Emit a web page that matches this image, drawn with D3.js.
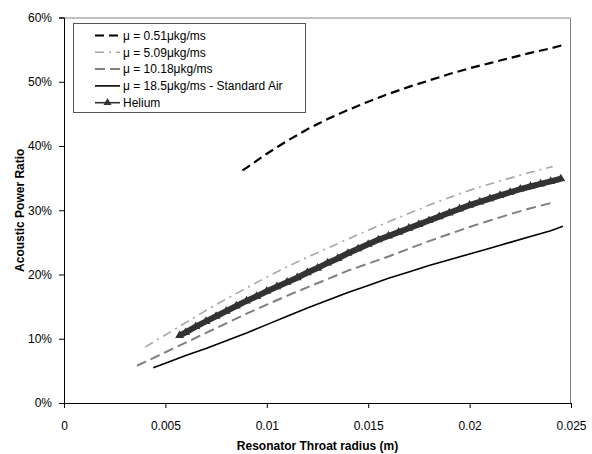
<!DOCTYPE html>
<html>
<head>
<meta charset="utf-8">
<script src="https://cdn.jsdelivr.net/npm/d3@7"></script>
<style>
  body { margin: 0; background: #fff; }
  svg { font-family: "Liberation Sans", Arial, sans-serif; }
</style>
</head>
<body>
<div id="chart"></div>
<script>
// series: throat radius (m) vs acoustic power ratio (%)
var rad051 = [0.0088, 0.009, 0.010, 0.011, 0.012, 0.013, 0.014, 0.015, 0.016, 0.017, 0.018, 0.019, 0.020, 0.021, 0.022, 0.023, 0.024, 0.0246];
var ratio051 = [36.2, 36.6, 38.8, 40.8, 42.6, 44.2, 45.6, 46.9, 48.1, 49.2, 50.2, 51.2, 52.1, 52.9, 53.7, 54.5, 55.2, 55.7];

var rad509 = [0.004, 0.005, 0.006, 0.007, 0.008, 0.009, 0.010, 0.011, 0.012, 0.013, 0.014, 0.015, 0.016, 0.017, 0.018, 0.019, 0.020, 0.021, 0.022, 0.023, 0.0241];
var ratio509 = [8.7, 10.6, 12.5, 14.4, 16.2, 17.9, 19.6, 21.2, 22.7, 24.1, 25.5, 26.9, 28.2, 29.5, 30.8, 32.0, 33.1, 34.1, 35.0, 35.9, 36.8];

var rad1018 = [0.0036, 0.004, 0.005, 0.006, 0.007, 0.008, 0.009, 0.010, 0.011, 0.012, 0.013, 0.014, 0.015, 0.016, 0.017, 0.018, 0.019, 0.020, 0.021, 0.022, 0.023, 0.0241];
var ratio1018 = [5.8, 6.4, 7.9, 9.4, 10.9, 12.4, 13.9, 15.3, 16.7, 18.0, 19.3, 20.6, 21.7, 22.8, 24.0, 25.2, 26.3, 27.4, 28.4, 29.4, 30.3, 31.2];

var rad185 = [0.0044, 0.005, 0.006, 0.007, 0.008, 0.009, 0.010, 0.011, 0.012, 0.013, 0.014, 0.015, 0.016, 0.017, 0.018, 0.019, 0.020, 0.021, 0.022, 0.023, 0.024, 0.0246];
var ratio185 = [5.5, 6.2, 7.4, 8.5, 9.7, 10.9, 12.2, 13.5, 14.8, 16.0, 17.2, 18.3, 19.4, 20.4, 21.4, 22.3, 23.2, 24.1, 25.0, 25.9, 26.8, 27.5];

var radHe = [0.0057, 0.006, 0.0065, 0.007, 0.0075, 0.008, 0.0085, 0.009, 0.0095, 0.010, 0.0105, 0.011, 0.0115, 0.012, 0.0125, 0.013, 0.0135, 0.014, 0.0145, 0.015,
             0.0155, 0.016, 0.0165, 0.017, 0.0175, 0.018, 0.0185, 0.019, 0.0195, 0.020, 0.0205, 0.021, 0.0215, 0.022, 0.0225, 0.023, 0.0235, 0.024, 0.0245];
var ratioHe = [10.5, 11.0, 11.9, 12.7, 13.5, 14.3, 15.1, 15.9, 16.6, 17.4, 18.1, 18.8, 19.5, 20.3, 21.0, 21.8, 22.5, 23.3, 24.0, 24.7,
               25.4, 26.0, 26.6, 27.2, 27.8, 28.4, 29.0, 29.6, 30.2, 30.8, 31.3, 31.8, 32.3, 32.8, 33.3, 33.7, 34.1, 34.5, 34.9];

var seriesNames = ["μ = 0.51μkg/ms", "μ = 5.09μkg/ms", "μ = 10.18μkg/ms", "μ = 18.5μkg/ms - Standard Air", "Helium"];
var xTickValues = [0, 0.005, 0.01, 0.015, 0.02, 0.025];
var xTickLabels = ["0", "0.005", "0.01", "0.015", "0.02", "0.025"];
var yTickValues = [0, 10, 20, 30, 40, 50, 60];

(function (d3) {
  "use strict";

  var opt = {
    width: 592,
    height: 454,
    margin: {top: 17.5, right: 21, bottom: 51, left: 64}
  };
  opt.inWidth = opt.width - opt.margin.left - opt.margin.right;
  opt.inHeight = opt.height - opt.margin.top - opt.margin.bottom;

  // line looks per series, same order as seriesNames
  var looks = [
    {color: "#000000", width: 2.2, dash: "9,5"},
    {color: "#a6a6a6", width: 1.6, dash: "9,5,2,5"},
    {color: "#7f7f7f", width: 2, dash: "10,5"},
    {color: "#000000", width: 1.6, dash: null},
    {color: "#333333", width: 6, dash: null, marker: true}
  ];
  var xs = [rad051, rad509, rad1018, rad185, radHe];
  var ys = [ratio051, ratio509, ratio1018, ratio185, ratioHe];
  var series = seriesNames.map(function (name, i) {
    return {
      name: name,
      look: looks[i],
      points: xs[i].map(function (x, j) { return [x, ys[i][j]]; })
    };
  });

  var xScale = d3.scaleLinear().domain([0, 0.025]).range([0, opt.inWidth]);
  var yScale = d3.scaleLinear().domain([0, 60]).range([opt.inHeight, 0]);

  var svg = d3.select("#chart").append("svg")
    .attr("width", opt.width)
    .attr("height", opt.height);
  var g = svg.append("g")
    .attr("transform", "translate(" + opt.margin.left + "," + opt.margin.top + ")");

  // grey frame on top and right
  g.append("path")
    .attr("d", "M0,0.5H" + (opt.inWidth - 0.5) + "V" + opt.inHeight)
    .attr("fill", "none")
    .attr("stroke", "#808080")
    .attr("stroke-width", 1);

  // axes
  var yAxis = g.append("g")
    .call(d3.axisLeft(yScale).tickValues(yTickValues).tickSize(5).tickPadding(7)
      .tickFormat(function (d) { return d + "%"; }));
  var xAxis = g.append("g")
    .attr("transform", "translate(0," + opt.inHeight + ")")
    .call(d3.axisBottom(xScale).tickValues(xTickValues).tickSize(5).tickPadding(13)
      .tickFormat(function (d, i) { return xTickLabels[i]; }));
  [xAxis, yAxis].forEach(function (ax) {
    ax.select(".domain").attr("stroke", "#000");
    ax.selectAll("text").attr("font-size", 12).attr("fill", "#000")
      .attr("font-family", "'Liberation Sans', Arial, sans-serif");
  });

  // axis titles
  svg.append("text")
    .attr("x", opt.margin.left + opt.inWidth / 2)
    .attr("y", 450)
    .attr("text-anchor", "middle")
    .attr("font-size", 12)
    .attr("font-weight", "bold")
    .text("Resonator Throat radius (m)");
  svg.append("text")
    .attr("transform", "translate(24," + (opt.margin.top + opt.inHeight / 2) + ") rotate(-90)")
    .attr("text-anchor", "middle")
    .attr("font-size", 12)
    .attr("font-weight", "bold")
    .text("Acoustic Power Ratio");

  var line = d3.line()
    .x(function (p) { return xScale(p[0]); })
    .y(function (p) { return yScale(p[1]); });
  var triangle = d3.symbol().type(d3.symbolTriangle).size(34);

  var lines = g.append("g").attr("class", "lines");
  series.forEach(function (s) {
    lines.append("path")
      .attr("d", line(s.points))
      .attr("fill", "none")
      .attr("stroke", s.look.color)
      .attr("stroke-width", s.look.width)
      .attr("stroke-dasharray", s.look.dash);
    if (s.look.marker) {
      lines.append("g").selectAll("path")
        .data(s.points).enter()
        .append("path")
        .attr("d", triangle)
        .attr("transform", function (p) { return "translate(" + xScale(p[0]) + "," + yScale(p[1]) + ")"; })
        .attr("fill", s.look.color);
    }
  });

  // legend
  var legend = svg.append("g").attr("transform", "translate(73,23)");
  legend.append("rect")
    .attr("x", 0.5).attr("y", 0.5)
    .attr("width", 232).attr("height", 89)
    .attr("fill", "#fff")
    .attr("stroke", "#555")
    .attr("stroke-width", 1);
  var rows = legend.selectAll("g.row")
    .data(series).enter()
    .append("g")
    .attr("class", "row")
    .attr("transform", function (d, i) { return "translate(0," + (12.5 + i * 16.8) + ")"; });
  rows.append("line")
    .attr("x1", 22).attr("x2", 47)
    .attr("stroke", function (d) { return d.look.color; })
    .attr("stroke-width", function (d) { return d.look.marker ? 1.6 : Math.min(d.look.width, 2); })
    .attr("stroke-dasharray", function (d) { return d.look.dash; });
  rows.filter(function (d) { return d.look.marker; })
    .append("path")
    .attr("d", d3.symbol().type(d3.symbolTriangle).size(28))
    .attr("transform", "translate(34.5,0)")
    .attr("fill", function (d) { return d.look.color; });
  rows.append("text")
    .attr("x", 50)
    .attr("dy", "0.35em")
    .attr("font-size", 12)
    .text(function (d) { return d.name; });
}(d3));
</script>
</body>
</html>
